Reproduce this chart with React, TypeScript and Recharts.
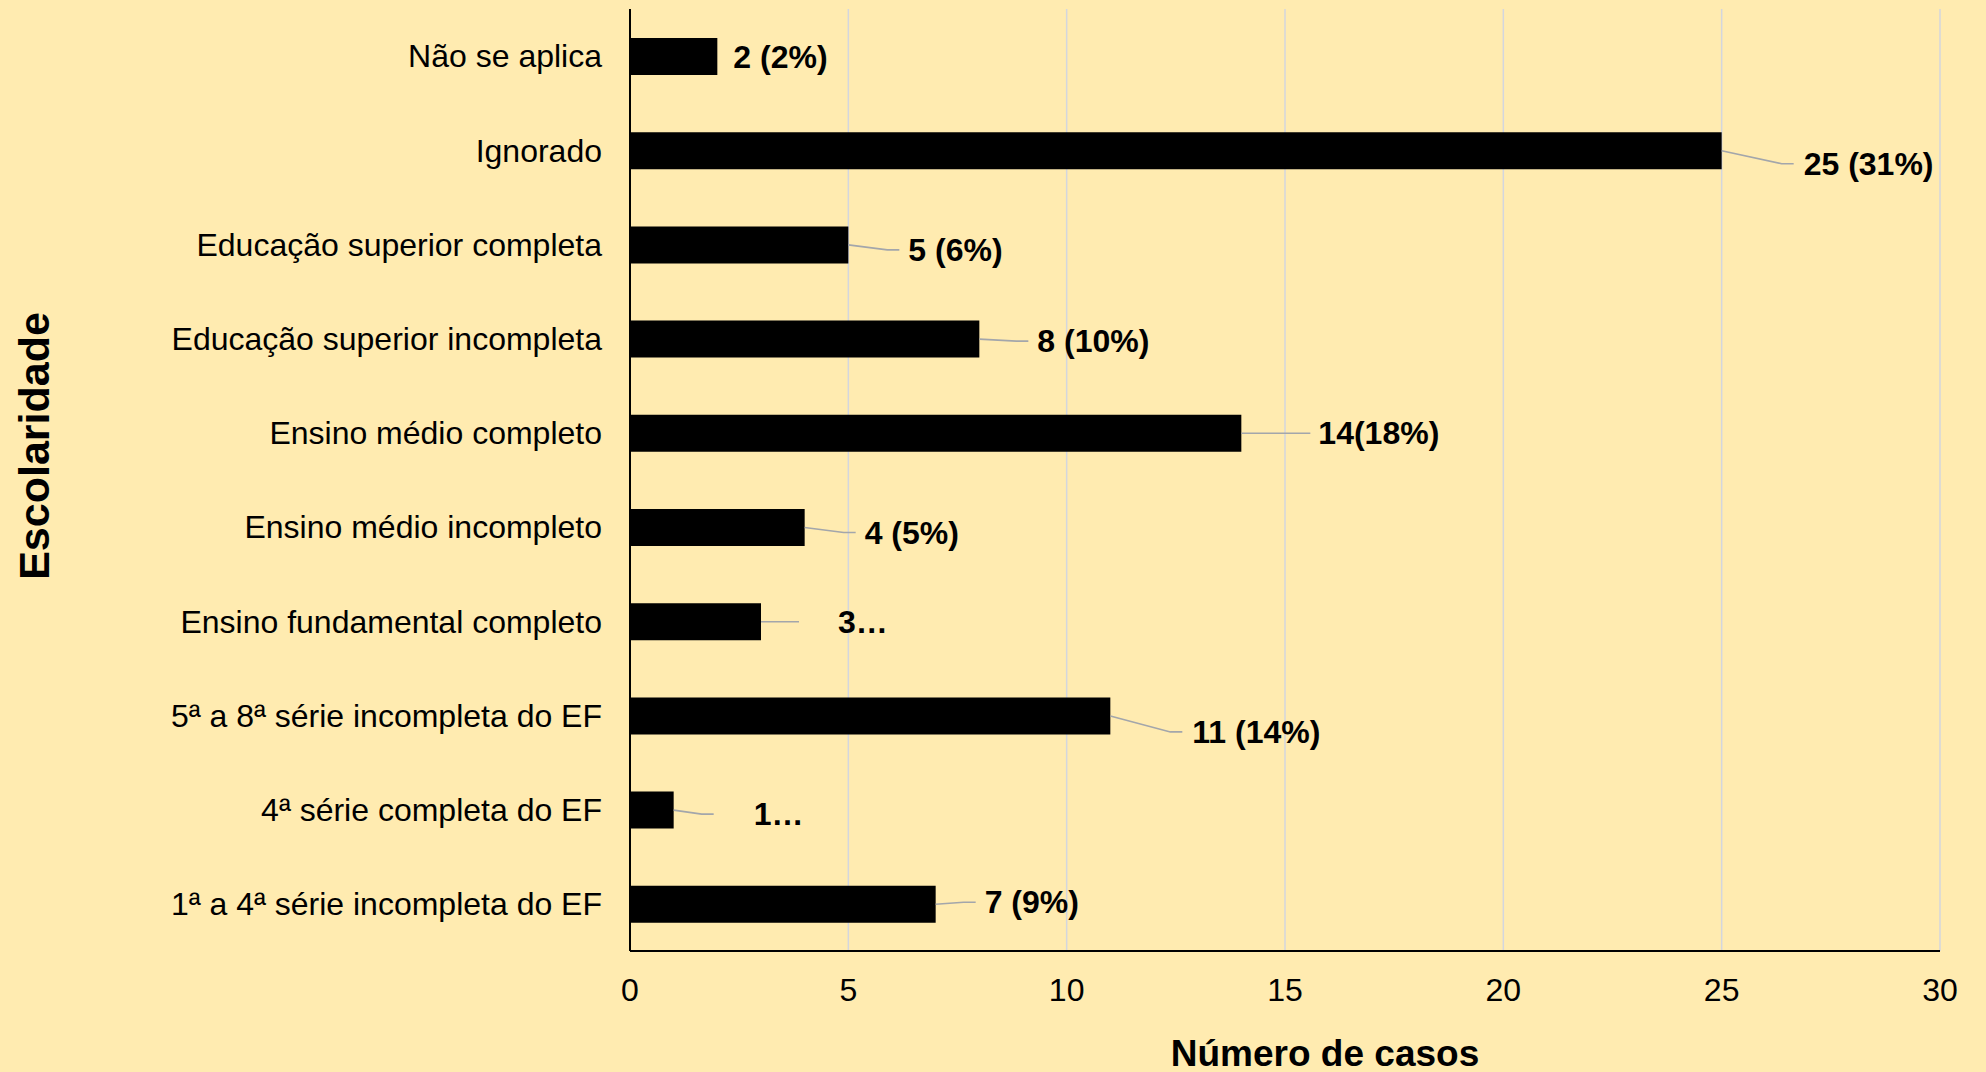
import { Bar, BarChart, CartesianGrid, LabelList, XAxis, YAxis } from "recharts";

const categories = [
  "Não se aplica",
  "Ignorado",
  "Educação superior completa",
  "Educação superior incompleta",
  "Ensino médio completo",
  "Ensino médio incompleto",
  "Ensino fundamental completo",
  "5ª a 8ª série incompleta do EF",
  "4ª série completa do EF",
  "1ª a 4ª série incompleta do EF",
];

const casos = [2, 25, 5, 8, 14, 4, 3, 11, 1, 7];

const labelTexts = [
  "2 (2%)",
  "25 (31%)",
  "5 (6%)",
  "8 (10%)",
  "14(18%)",
  "4 (5%)",
  "3…",
  "11 (14%)",
  "1…",
  "7 (9%)",
];

const xTicks = [0, 5, 10, 15, 20, 25, 30];

// where each data label sits relative to the end of its bar: [dx, dy, gap before text]
const labelOffsets: Array<[number, number, number | null]> = [
  [16, 0, null],
  [82, 13, 10],
  [60, 5, 9],
  [58, 2, 9],
  [77, 0, 8],
  [60, 5, 9],
  [77, 0, 39],
  [82, 16, 10],
  [80, 4, 40],
  [49, -2, 9],
];

const data = categories.map((name, i) => ({ name, casos: casos[i], label: labelTexts[i] }));

const FONT = '"Liberation Sans", Arial, sans-serif';
const BG = "#FFEBB0";

function DataLabel(props: any) {
  const { x, y, width, height, index } = props;
  const endX = Number(x) + Number(width);
  const cy = Number(y) + Number(height) / 2;
  const [dx, dy, gap] = labelOffsets[index];
  const tx = endX + dx;
  const ty = cy + dy;
  return (
    <g>
      {gap !== null && (
        <polyline
          points={`${endX},${cy} ${tx - gap - 12},${ty} ${tx - gap},${ty}`}
          fill="none"
          stroke="#A3A6AB"
          strokeWidth={1.6}
        />
      )}
      <text
        x={tx}
        y={ty}
        dominantBaseline="central"
        fontFamily={FONT}
        fontSize={32}
        fontWeight="bold"
        fill="#000"
      >
        {labelTexts[index]}
      </text>
    </g>
  );
}

export default function App() {
  return (
    <div style={{ position: "absolute", left: 0, top: 0, width: 1986, height: 1072, background: BG }}>
      <BarChart
        width={1986}
        height={1072}
        data={data}
        layout="vertical"
        margin={{ top: 9, right: 46, left: 0, bottom: 61 }}
        barCategoryGap={0}
      >
        <CartesianGrid horizontal={false} stroke="#D3D6DE" strokeWidth={1.5} />
        <XAxis
          type="number"
          domain={[0, 30]}
          ticks={xTicks}
          height={60}
          tickLine={false}
          tickSize={0}
          tickMargin={27}
          axisLine={{ stroke: "#000", strokeWidth: 2 }}
          tick={{ fill: "#000", fontSize: 32, fontFamily: FONT }}
          interval={0}
        />
        <YAxis
          type="category"
          dataKey="name"
          width={630}
          tickLine={false}
          tickSize={0}
          tickMargin={28}
          axisLine={{ stroke: "#000", strokeWidth: 2 }}
          tick={{ fill: "#000", fontSize: 32, fontFamily: FONT }}
          interval={0}
        />
        <Bar dataKey="casos" fill="#000" barSize={37} isAnimationActive={false}>
          <LabelList dataKey="label" content={<DataLabel />} />
        </Bar>
      </BarChart>
      <div
        style={{
          position: "absolute",
          left: 1325,
          top: 1054,
          transform: "translate(-50%, -50%)",
          fontFamily: FONT,
          fontWeight: "bold",
          fontSize: 37,
          whiteSpace: "nowrap",
          color: "#000",
        }}
      >
        Número de casos
      </div>
      <div
        style={{
          position: "absolute",
          left: 34,
          top: 446,
          transform: "translate(-50%, -50%) rotate(-90deg)",
          fontFamily: FONT,
          fontWeight: "bold",
          fontSize: 43,
          whiteSpace: "nowrap",
          color: "#000",
        }}
      >
        Escolaridade
      </div>
    </div>
  );
}
